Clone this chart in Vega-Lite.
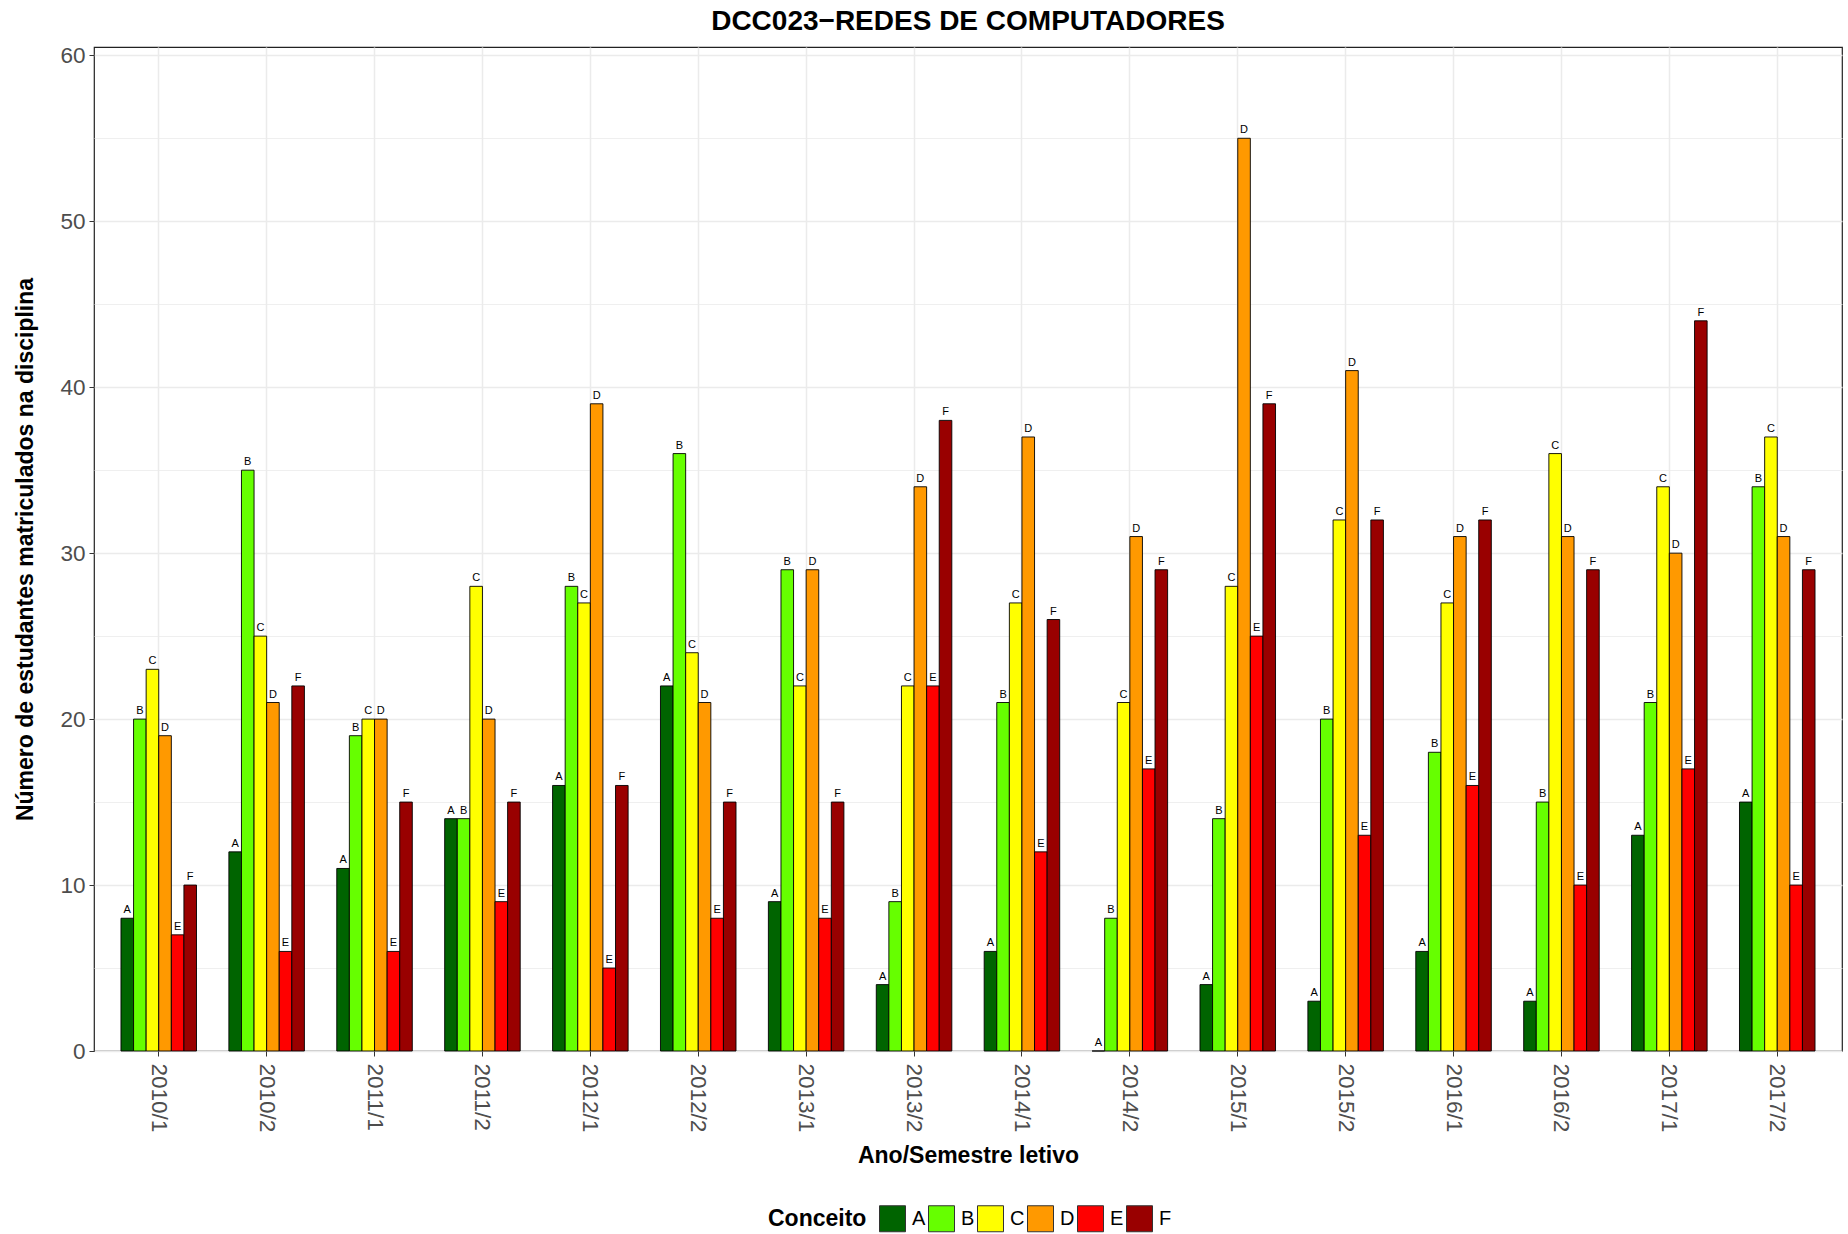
{
  "$schema": "https://vega.github.io/schema/vega-lite/v6.json",
  "autosize": {"type": "none"},
  "padding": {"left": 94, "top": 47, "right": 6, "bottom": 183},
  "width": 1748,
  "height": 1004,
  "background": "white",
  "config": {
    "font": "Liberation Sans",
    "view": {"stroke": "#222222", "strokeWidth": 1.2},
    "axis": {"domain": false, "gridColor": "#EBEBEB", "labelColor": "#4D4D4D", "labelFontSize": 22.5, "tickColor": "#333333", "tickSize": 5, "titleFontSize": 23, "titleFontWeight": "bold", "titleColor": "black"}
  },
  "title": {"text": "DCC023\u2212REDES DE COMPUTADORES", "fontSize": 28, "fontWeight": "bold", "anchor": "middle", "offset": 8, "color": "black"},
  "data": {"values": [
    {"sem": "2010/1", "c": "A", "n": 8}, {"sem": "2010/1", "c": "B", "n": 20}, {"sem": "2010/1", "c": "C", "n": 23}, {"sem": "2010/1", "c": "D", "n": 19}, {"sem": "2010/1", "c": "E", "n": 7}, {"sem": "2010/1", "c": "F", "n": 10},
    {"sem": "2010/2", "c": "A", "n": 12}, {"sem": "2010/2", "c": "B", "n": 35}, {"sem": "2010/2", "c": "C", "n": 25}, {"sem": "2010/2", "c": "D", "n": 21}, {"sem": "2010/2", "c": "E", "n": 6}, {"sem": "2010/2", "c": "F", "n": 22},
    {"sem": "2011/1", "c": "A", "n": 11}, {"sem": "2011/1", "c": "B", "n": 19}, {"sem": "2011/1", "c": "C", "n": 20}, {"sem": "2011/1", "c": "D", "n": 20}, {"sem": "2011/1", "c": "E", "n": 6}, {"sem": "2011/1", "c": "F", "n": 15},
    {"sem": "2011/2", "c": "A", "n": 14}, {"sem": "2011/2", "c": "B", "n": 14}, {"sem": "2011/2", "c": "C", "n": 28}, {"sem": "2011/2", "c": "D", "n": 20}, {"sem": "2011/2", "c": "E", "n": 9}, {"sem": "2011/2", "c": "F", "n": 15},
    {"sem": "2012/1", "c": "A", "n": 16}, {"sem": "2012/1", "c": "B", "n": 28}, {"sem": "2012/1", "c": "C", "n": 27}, {"sem": "2012/1", "c": "D", "n": 39}, {"sem": "2012/1", "c": "E", "n": 5}, {"sem": "2012/1", "c": "F", "n": 16},
    {"sem": "2012/2", "c": "A", "n": 22}, {"sem": "2012/2", "c": "B", "n": 36}, {"sem": "2012/2", "c": "C", "n": 24}, {"sem": "2012/2", "c": "D", "n": 21}, {"sem": "2012/2", "c": "E", "n": 8}, {"sem": "2012/2", "c": "F", "n": 15},
    {"sem": "2013/1", "c": "A", "n": 9}, {"sem": "2013/1", "c": "B", "n": 29}, {"sem": "2013/1", "c": "C", "n": 22}, {"sem": "2013/1", "c": "D", "n": 29}, {"sem": "2013/1", "c": "E", "n": 8}, {"sem": "2013/1", "c": "F", "n": 15},
    {"sem": "2013/2", "c": "A", "n": 4}, {"sem": "2013/2", "c": "B", "n": 9}, {"sem": "2013/2", "c": "C", "n": 22}, {"sem": "2013/2", "c": "D", "n": 34}, {"sem": "2013/2", "c": "E", "n": 22}, {"sem": "2013/2", "c": "F", "n": 38},
    {"sem": "2014/1", "c": "A", "n": 6}, {"sem": "2014/1", "c": "B", "n": 21}, {"sem": "2014/1", "c": "C", "n": 27}, {"sem": "2014/1", "c": "D", "n": 37}, {"sem": "2014/1", "c": "E", "n": 12}, {"sem": "2014/1", "c": "F", "n": 26},
    {"sem": "2014/2", "c": "A", "n": 0}, {"sem": "2014/2", "c": "B", "n": 8}, {"sem": "2014/2", "c": "C", "n": 21}, {"sem": "2014/2", "c": "D", "n": 31}, {"sem": "2014/2", "c": "E", "n": 17}, {"sem": "2014/2", "c": "F", "n": 29},
    {"sem": "2015/1", "c": "A", "n": 4}, {"sem": "2015/1", "c": "B", "n": 14}, {"sem": "2015/1", "c": "C", "n": 28}, {"sem": "2015/1", "c": "D", "n": 55}, {"sem": "2015/1", "c": "E", "n": 25}, {"sem": "2015/1", "c": "F", "n": 39},
    {"sem": "2015/2", "c": "A", "n": 3}, {"sem": "2015/2", "c": "B", "n": 20}, {"sem": "2015/2", "c": "C", "n": 32}, {"sem": "2015/2", "c": "D", "n": 41}, {"sem": "2015/2", "c": "E", "n": 13}, {"sem": "2015/2", "c": "F", "n": 32},
    {"sem": "2016/1", "c": "A", "n": 6}, {"sem": "2016/1", "c": "B", "n": 18}, {"sem": "2016/1", "c": "C", "n": 27}, {"sem": "2016/1", "c": "D", "n": 31}, {"sem": "2016/1", "c": "E", "n": 16}, {"sem": "2016/1", "c": "F", "n": 32},
    {"sem": "2016/2", "c": "A", "n": 3}, {"sem": "2016/2", "c": "B", "n": 15}, {"sem": "2016/2", "c": "C", "n": 36}, {"sem": "2016/2", "c": "D", "n": 31}, {"sem": "2016/2", "c": "E", "n": 10}, {"sem": "2016/2", "c": "F", "n": 29},
    {"sem": "2017/1", "c": "A", "n": 13}, {"sem": "2017/1", "c": "B", "n": 21}, {"sem": "2017/1", "c": "C", "n": 34}, {"sem": "2017/1", "c": "D", "n": 30}, {"sem": "2017/1", "c": "E", "n": 17}, {"sem": "2017/1", "c": "F", "n": 44},
    {"sem": "2017/2", "c": "A", "n": 15}, {"sem": "2017/2", "c": "B", "n": 34}, {"sem": "2017/2", "c": "C", "n": 37}, {"sem": "2017/2", "c": "D", "n": 31}, {"sem": "2017/2", "c": "E", "n": 10}, {"sem": "2017/2", "c": "F", "n": 29}
  ]},
  "encoding": {
    "x": {"field": "sem", "type": "nominal", "sort": null,
      "scale": {"paddingInner": 0.3, "paddingOuter": 0.25},
      "axis": {"title": "Ano/Semestre letivo", "labelAngle": 90, "labelAlign": "left", "labelBaseline": "middle", "bandPosition": 0.5, "grid": true, "gridWidth": 1.5, "labelPadding": 7, "titlePadding": 13}},
    "y": {"field": "n", "type": "quantitative",
      "scale": {"domain": [0, 60.5], "nice": false, "zero": true},
      "axis": {"title": "N\u00famero de estudantes matriculados na disciplina", "values": [0, 5, 10, 15, 20, 25, 30, 35, 40, 45, 50, 55, 60],
        "labelExpr": "datum.value % 10 === 0 ? datum.label : ''",
        "gridWidth": {"condition": {"test": "datum.value % 10 === 0", "value": 1.6}, "value": 0.8},
        "tickOpacity": {"condition": {"test": "datum.value % 10 === 0", "value": 1}, "value": 0},
        "titlePadding": 22, "labelPadding": 4}},
    "xOffset": {"field": "c", "type": "nominal", "scale": {"paddingInner": 0, "paddingOuter": 0}}
  },
  "layer": [
    {"mark": {"type": "bar", "stroke": "black", "strokeWidth": 0.9},
     "encoding": {"color": {"field": "c", "type": "nominal",
       "scale": {"domain": ["A", "B", "C", "D", "E", "F"], "range": ["#006400", "#66FF00", "#FFFF00", "#FF9900", "#FF0000", "#990000"]},
       "legend": {"title": "Conceito", "orient": "none", "legendX": 674, "legendY": 1158, "direction": "horizontal", "titleOrient": "left", "titleFontSize": 23, "titleFontWeight": "bold", "titleColor": "black", "titlePadding": 12, "symbolType": "square", "symbolSize": 676, "symbolStrokeColor": "#333333", "symbolStrokeWidth": 1, "symbolOpacity": 1, "labelFontSize": 20, "labelColor": "black", "labelOffset": 6, "columnPadding": 0}}}},
    {"mark": {"type": "text", "baseline": "bottom", "dy": -3, "fontSize": 11, "color": "black"},
     "encoding": {"text": {"field": "c"}}}
  ]
}
